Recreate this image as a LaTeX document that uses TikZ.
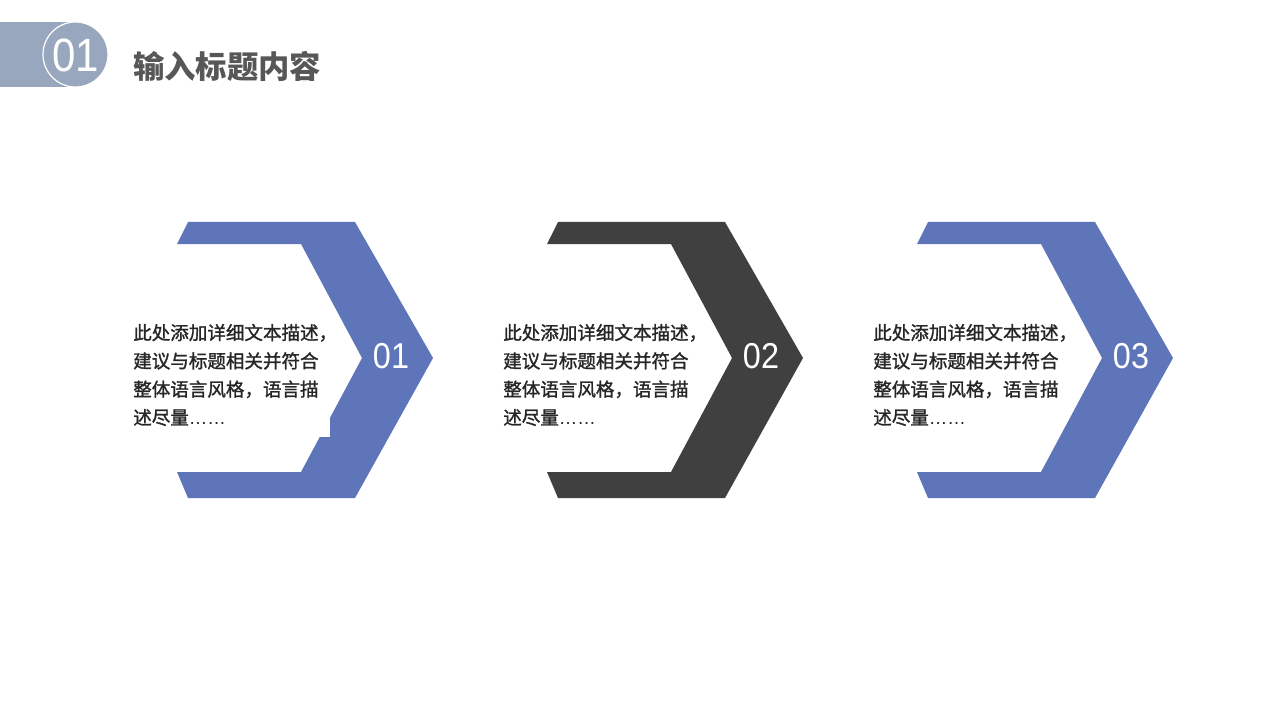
\documentclass[tikz,border=0pt]{standalone}
\usepackage{fontspec}
\setmainfont{Liberation Sans}
\newfontfamily\cjk{Noto Sans CJK SC}
\newfontfamily\cjkgras[FakeBold=1.3]{Noto Sans CJK SC}
\newfontfamily\chiffre[FakeStretch=0.9]{Liberation Sans}
\definecolor{bleu}{HTML}{5E75B9}
\definecolor{noir}{HTML}{404040}
\definecolor{gris}{HTML}{98A7BE}
\definecolor{titre}{HTML}{575757}
\definecolor{texte}{HTML}{262626}

\begin{document}
\begin{tikzpicture}[x=0.75pt,y=-0.75pt]

% définition des styles
\tikzstyle{chevronbleu}=[fill=bleu,draw=none]
\tikzstyle{chevronnoir}=[fill=noir,draw=none]
\tikzstyle{numero}=[text=white,inner sep=0pt,font=\chiffre\fontsize{27}{27}\selectfont]
\tikzstyle{paragraphe}=[anchor=west,align=left,inner sep=0pt,text=texte,font=\cjkgras\fontsize{13.9}{21.2}\selectfont]
\tikzstyle{cache}=[fill=white,draw=none]

\useasboundingbox[fill=white] (0,0) rectangle (1280,720);

% en-tête
\fill[gris] (0,22) rectangle (75.5,87);
\draw[fill=gris,draw=white,line width=0.9pt] (75.5,54.5) circle (32.5);
\node[text=white,inner sep=0pt,font=\chiffre\fontsize{35}{35}\selectfont] (num0) at (75.5,55.5) {01};
\node[anchor=west,inner sep=0pt,text=titre,font=\cjk\bfseries\fontsize{23.5}{23.5}\selectfont] (titre) at (133,66) {输入标题内容};

% les chevrons
\fill[chevronbleu] (188,222) -- (355,222) -- (433,358) -- (355,498) -- (188,498) -- (177,472) -- (301,472) -- (362,358) -- (301,244) -- (177,244) -- cycle;
\fill[chevronnoir,xshift=370*0.75pt] (188,222) -- (355,222) -- (433,358) -- (355,498) -- (188,498) -- (177,472) -- (301,472) -- (362,358) -- (301,244) -- (177,244) -- cycle;
\fill[chevronbleu,xshift=740*0.75pt] (188,222) -- (355,222) -- (433,358) -- (355,498) -- (188,498) -- (177,472) -- (301,472) -- (362,358) -- (301,244) -- (177,244) -- cycle;

% zones de texte
\fill[cache] (128,312) rectangle (330,437);

% les numéros
\node[numero] (n1) at (391,356) {01};
\node[numero] (n2) at (761,356) {02};
\node[numero] (n3) at (1131,356) {03};

% les paragraphes
\node[paragraphe] (p1) at (133,375) {此处添加详细文本描述，\\建议与标题相关并符合\\整体语言风格，语言描\\述尽量{\rmfamily ……}};
\node[paragraphe] (p2) at (503,375) {此处添加详细文本描述，\\建议与标题相关并符合\\整体语言风格，语言描\\述尽量{\rmfamily ……}};
\node[paragraphe] (p3) at (873,375) {此处添加详细文本描述，\\建议与标题相关并符合\\整体语言风格，语言描\\述尽量{\rmfamily ……}};

\end{tikzpicture}
\end{document}
